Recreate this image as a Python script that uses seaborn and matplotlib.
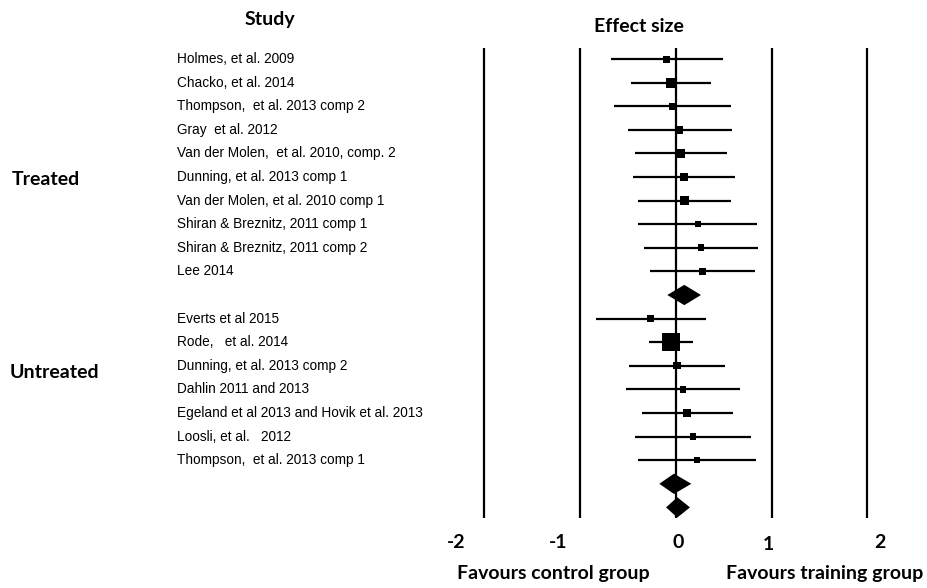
import numpy as np
import pandas as pd
import matplotlib
matplotlib.use("Agg")
import matplotlib.pyplot as plt
from matplotlib.patches import Polygon
from matplotlib.transforms import blended_transform_factory
import seaborn as sns

# ---- study-level effect sizes (Hedges' g with 95% CI) ----
treated_studies = [
    "Holmes, et al. 2009",
    "Chacko, et al. 2014",
    "Thompson,  et al. 2013 comp 2",
    "Gray  et al. 2012",
    "Van der Molen,  et al. 2010, comp. 2",
    "Dunning, et al. 2013 comp 1",
    "Van der Molen, et al. 2010 comp 1",
    "Shiran & Breznitz, 2011 comp 1",
    "Shiran & Breznitz, 2011 comp 2",
    "Lee 2014",
]
treated_est = [-0.095, -0.05, -0.035, 0.037, 0.05, 0.086, 0.089, 0.228, 0.263, 0.277]
treated_lo = [-0.68, -0.465, -0.645, -0.496, -0.423, -0.444, -0.392, -0.392, -0.332, -0.266]
treated_hi = [0.49, 0.365, 0.573, 0.584, 0.535, 0.615, 0.573, 0.848, 0.858, 0.824]
treated_weight = [7.0, 10.0, 7.0, 7.7, 9.7, 8.0, 8.7, 6.0, 6.7, 7.0]

untreated_studies = [
    "Everts et al 2015",
    "Rode,   et al. 2014",
    "Dunning, et al. 2013 comp 2",
    "Dahlin 2011 and 2013",
    "Egeland et al 2013 and Hovik et al. 2013",
    "Loosli, et al.   2012",
    "Thompson,  et al. 2013 comp 1",
]
untreated_est = [-0.262, -0.053, 0.013, 0.075, 0.117, 0.176, 0.218]
untreated_lo = [-0.833, -0.28, -0.486, -0.52, -0.353, -0.423, -0.395]
untreated_hi = [0.312, 0.176, 0.514, 0.674, 0.594, 0.782, 0.838]
untreated_weight = [7.0, 17.7, 7.3, 6.3, 8.3, 6.3, 5.7]

# pooled estimates: treated, untreated, overall
pooled_est = [0.089, -0.019, 0.016]
pooled_lo = [-0.089, -0.172, -0.102]
pooled_hi = [0.263, 0.162, 0.148]

ref_values = [-2, -1, 0, 1, 2]
tick_labels = ["-2", "-1", "0", "1", "2"]

# ---- row layout: treated studies, treated pooled, untreated studies, two pooled rows ----
n_t, n_u = len(treated_studies), len(untreated_studies)
treated_rows = np.arange(n_t)
treated_pool_row = n_t
untreated_rows = np.arange(n_u) + n_t + 1
untreated_pool_row = n_t + n_u + 1
overall_row = n_t + n_u + 2

df = pd.DataFrame({
    "study": treated_studies + untreated_studies,
    "est": treated_est + untreated_est,
    "lo": treated_lo + untreated_lo,
    "hi": treated_hi + untreated_hi,
    "weight": treated_weight + untreated_weight,
    "row": np.concatenate([treated_rows, untreated_rows]),
})
# square side in points -> marker area
df["area"] = (df["weight"] * 0.72) ** 2

pool = pd.DataFrame({
    "est": pooled_est, "lo": pooled_lo, "hi": pooled_hi,
    "row": [treated_pool_row, untreated_pool_row, overall_row],
})

sns.set_theme(style="white")
plt.rcParams["font.family"] = ["Liberation Sans", "DejaVu Sans"]

W, H = 927, 588
fig = plt.figure(figsize=(W / 100, H / 100), dpi=100)
ax = fig.add_axes([0, 0, 1, 1])
ax.set_axis_off()

# data <-> pixel geometry of the plot area
x0_px, unit_px = 675.8, 95.75
y0_px, row_px = 59.0, 23.6
ax.set_xlim(-x0_px / unit_px, (W - x0_px) / unit_px)
ax.set_ylim((H - y0_px) / row_px, -y0_px / row_px)

# reference lines
ax.vlines(ref_values, -0.47, overall_row + 0.45, color="black", lw=1.6, zorder=1)

# confidence intervals
ax.hlines(df["row"], df["lo"], df["hi"], color="black", lw=1.6, zorder=2)

# point estimates, square size proportional to weight
amin, amax = df["area"].min(), df["area"].max()
sns.scatterplot(data=df, x="est", y="row", size="area", sizes=(amin, amax),
                size_norm=(amin, amax), marker="s", color="black",
                linewidth=0, legend=False, ax=ax, zorder=3)

# pooled diamonds
half_h = 0.43
for _, r in pool.iterrows():
    ax.add_patch(Polygon([(r["lo"], r["row"]), (r["est"], r["row"] - half_h),
                          (r["hi"], r["row"]), (r["est"], r["row"] + half_h)],
                         closed=True, color="black", lw=0, zorder=3))

ax.set_xlabel("")
ax.set_ylabel("")

# study labels
lab_tr = blended_transform_factory(fig.transFigure, ax.transData)
for name, row in zip(df["study"], df["row"]):
    ax.text(177 / W, row, name, transform=lab_tr, ha="left", va="center",
            fontsize=9.8, family=["Liberation Sans", "DejaVu Sans"], color="black")

def px(x, y):
    return x / W, 1 - y / H

bold = dict(family=["Lato", "DejaVu Sans"], fontweight="bold", color="black")
fs = 14
fig.text(*px(270, 19), "Study", ha="center", va="center", fontsize=fs, **bold)
fig.text(*px(639, 27), "Effect size", ha="center", va="center", fontsize=fs, **bold)
fig.text(*px(12, 179), "Treated", ha="left", va="center", fontsize=fs, **bold)
fig.text(*px(10, 373), "Untreated", ha="left", va="center", fontsize=fs, **bold)

tick_px = [(456, 542), (558, 542), (678, 542), (768, 545), (880, 542)]
for lbl, (tx, ty) in zip(tick_labels, tick_px):
    fig.text(*px(tx, ty), lbl, ha="center", va="center", fontsize=fs, **bold)

fig.text(*px(553, 573), "Favours control group", ha="center", va="center", fontsize=fs, **bold)
fig.text(*px(825, 573), "Favours training group", ha="center", va="center", fontsize=fs, **bold)

fig.savefig("out.png", dpi=100, facecolor="white")
